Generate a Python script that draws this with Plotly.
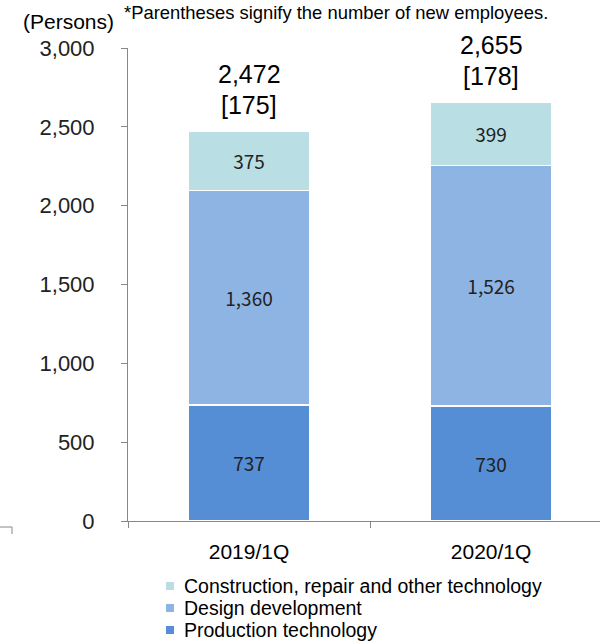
import plotly.graph_objects as go

# Headcount of engineers by field (persons)
periods = ["2019/1Q", "2020/1Q"]
production = [737, 730]
design = [1360, 1526]
construction = [375, 399]
totals = [2472, 2655]
new_hires = [175, 178]

series = [
    ("Production technology", production, "#558ED5"),
    ("Design development", design, "#8EB4E3"),
    ("Construction, repair and other technology", construction, "#B9DFE4"),
]

# Plot-area geometry in pixels (for placing the legend rows and notes)
W, H = 600, 643
L, R, T, B = 128, 0, 48, 122
PW, PH = W - L - R, H - T - B


def px(x):
    return (x - L) / PW


def py(y):
    return (H - B - y) / PH


fig = go.Figure()
for name, vals, color in series:
    fig.add_trace(go.Bar(
        x=periods, y=vals, name=name, showlegend=False,
        marker=dict(color=color, line=dict(color="white", width=1.5)),
        text=[f"{v:,}" for v in vals], textposition="inside",
        insidetextanchor="middle",
        textfont=dict(family="Noto Sans CJK JP", size=19, color="#222222"),
        width=0.5,
    ))

# Totals with new-hire counts above each stack
for p, t, n in zip(periods, totals, new_hires):
    fig.add_annotation(
        x=p, y=t, yshift=26, text=f"[{n}]", showarrow=False,
        xanchor="center", yanchor="middle",
        font=dict(family="Liberation Sans", size=25, color="black"),
    )
    fig.add_annotation(
        x=p, y=t, yshift=57, text=f"{t:,}", showarrow=False,
        xanchor="center", yanchor="middle",
        font=dict(family="Liberation Sans", size=25, color="black"),
    )

fig.add_annotation(
    x=px(116), y=py(21), xref="paper", yref="paper", xanchor="right",
    yanchor="middle", text="(Persons)", showarrow=False,
    font=dict(family="Liberation Sans", size=21, color="black"),
)
fig.add_annotation(
    x=px(122), y=py(12), xref="paper", yref="paper", xanchor="left",
    yanchor="middle", text="*Parentheses signify the number of new employees.",
    showarrow=False, font=dict(family="Liberation Sans", size=18.4, color="black"),
)

# Legend rows, top to bottom: construction, design, production
legend_rows = list(reversed(series))
row_y = [586, 608, 630]
for (name, _, color), ry in zip(legend_rows, row_y):
    fig.add_shape(type="rect", xref="paper", yref="paper",
                  x0=px(166), x1=px(174), y0=py(ry - 4), y1=py(ry + 4),
                  fillcolor=color, line=dict(width=0))
    fig.add_annotation(x=px(183), y=py(ry), xref="paper", yref="paper",
                       xanchor="left", yanchor="middle", text=name,
                       showarrow=False, borderpad=0,
                       font=dict(family="Liberation Sans", size=19.5, color="black"))

# Small leftover bracket at lower left
fig.add_shape(type="path", xref="paper", yref="paper",
              path=f"M {px(0)} {py(527)} L {px(12)} {py(527)} L {px(12)} {py(534)}",
              line=dict(color="#888888", width=1))

fig.update_layout(
    width=W, height=H,
    margin=dict(l=L, r=R, t=T, b=B),
    barmode="stack", bargap=0.5,
    plot_bgcolor="white", paper_bgcolor="white",
    font=dict(family="Liberation Sans", color="black"),
    showlegend=False,
    xaxis=dict(
        range=[-0.5, 1.45], showline=True, linecolor="#888888", linewidth=1,
        ticks="outside", tickson="boundaries", ticklen=6, tickcolor="#888888",
        tickfont=dict(size=21, color="black"), showgrid=False,
        ticklabelstandoff=12,
    ),
    yaxis=dict(
        range=[0, 3000], tickvals=[0, 500, 1000, 1500, 2000, 2500, 3000],
        tickformat=",", showline=True, linecolor="#888888", linewidth=1,
        ticks="outside", ticklen=6, tickcolor="#888888", showgrid=False,
        tickfont=dict(size=22, color="#222222"), zeroline=False,
        ticklabelstandoff=22,
    ),
)

fig.write_html("out.html")
